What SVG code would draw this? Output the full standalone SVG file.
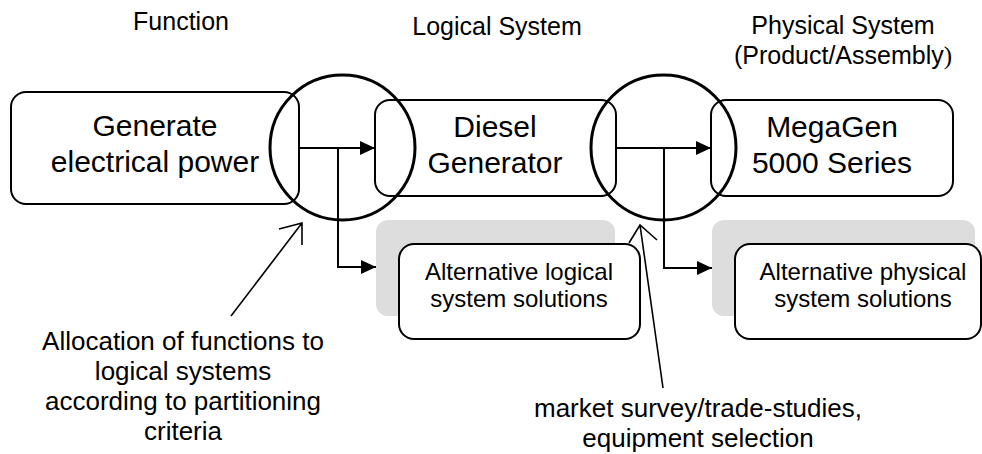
<svg xmlns="http://www.w3.org/2000/svg" width="982" height="454" viewBox="0 0 982 454">
<defs>
<marker id="tri" markerWidth="15" markerHeight="14" refX="15" refY="7" orient="auto" markerUnits="userSpaceOnUse"><path d="M0,0 L15,7 L0,14 z" fill="#000"/></marker>
<style>
text{font-family:"Liberation Sans",Arial,sans-serif;fill:#000;text-anchor:middle}
.hdr{font-size:25px}
.big{font-size:30px}
.alt{font-size:24px}
.note{font-size:26px}
.serif{font-family:"Liberation Serif","Times New Roman",serif}
.box{fill:#fff;stroke:#000;stroke-width:2}
.shadow{fill:#dddddd;stroke:none}
.ring{fill:none;stroke:#000;stroke-width:3}
.conn{fill:none;stroke:#000;stroke-width:2}
.ann{fill:none;stroke:#000;stroke-width:1.6}
</style>
</defs>
<rect width="982" height="454" fill="#fff"/>
<g id="headers">
<text class="hdr" x="181" y="30">Function</text>
<text class="hdr" x="497" y="35">Logical System</text>
<text class="hdr" x="843" y="34">Physical System</text>
<text class="hdr" x="843" y="64">(Product/Assembly<tspan class="serif">)</tspan></text>
</g>
<g id="alt-logical">
<rect class="shadow" x="376" y="220" width="239" height="96" rx="12"/>
<rect class="box" x="399" y="244" width="241" height="95" rx="15"/>
<text class="alt" x="519" y="280">Alternative logical</text>
<text class="alt" x="519" y="307">system solutions</text>
</g>
<g id="alt-physical">
<rect class="shadow" x="712" y="220" width="263" height="96" rx="12"/>
<rect class="box" x="735" y="244" width="246" height="95" rx="15"/>
<text class="alt" x="863" y="280">Alternative physical</text>
<text class="alt" x="863" y="307">system solutions</text>
</g>
<g id="function">
<rect class="box" x="11" y="92" width="288" height="112" rx="15"/>
<text class="big" x="155" y="136">Generate</text>
<text class="big" x="155" y="172">electrical power</text>
</g>
<g id="logical">
<rect class="box" x="375" y="100" width="241" height="96" rx="15"/>
<text class="big" x="495" y="137">Diesel</text>
<text class="big" x="495" y="173">Generator</text>
</g>
<g id="physical">
<rect class="box" x="711" y="100" width="242" height="96" rx="15"/>
<text class="big" x="832" y="137">MegaGen</text>
<text class="big" x="832" y="173">5000 Series</text>
</g>
<g id="allocation-circle"><circle class="ring" cx="342.5" cy="147.5" r="72.5"/></g>
<g id="selection-circle"><circle class="ring" cx="663.5" cy="147.5" r="72.5"/></g>
<g id="connectors">
<path class="conn" d="M299,148 H375" marker-end="url(#tri)"/>
<path class="conn" d="M338,148 V267 H376" marker-end="url(#tri)"/>
<path class="conn" d="M616,148 H711" marker-end="url(#tri)"/>
<path class="conn" d="M664,148 V268 H712" marker-end="url(#tri)"/>
<path class="ann" d="M231,316 L302,223 M279,229 L302,223 L302,245"/>
<path class="ann" d="M663,388 L640,225 M629,243 L640,225 L657,240"/>
</g>
<g id="notes">
<text class="note" x="183" y="350">Allocation of functions to</text>
<text class="note" x="183" y="380">logical systems</text>
<text class="note" x="183" y="410">according to partitioning</text>
<text class="note" x="183" y="440">criteria</text>
<text class="note" x="698" y="417">market survey/trade-studies,</text>
<text class="note" x="698" y="447">equipment selection</text>
</g>
</svg>
